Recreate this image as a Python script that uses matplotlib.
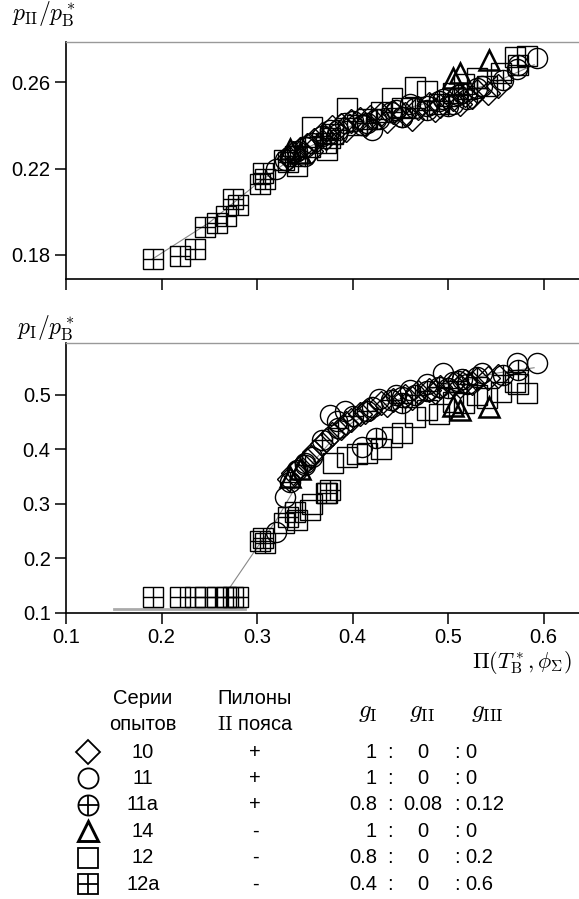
import matplotlib
matplotlib.use('Agg')
import matplotlib.pyplot as plt

plt.rcParams['font.family'] = ['Liberation Sans', 'DejaVu Sans']
plt.rcParams['mathtext.fontset'] = 'cm'

# series 10 (diamonds)
x10 = [0.333, 0.338, 0.345, 0.352, 0.356, 0.360, 0.368, 0.372, 0.378, 0.388, 0.393, 0.398,
       0.408, 0.413, 0.418, 0.430, 0.436, 0.442, 0.455, 0.462, 0.468, 0.480, 0.486, 0.492,
       0.505, 0.512, 0.518, 0.525, 0.530, 0.542, 0.552]
top10 = [0.225, 0.227, 0.229, 0.231, 0.228, 0.233, 0.236, 0.234, 0.239, 0.240, 0.238, 0.242,
         0.243, 0.240, 0.244, 0.245, 0.242, 0.246, 0.245, 0.243, 0.248, 0.250, 0.247, 0.249,
         0.252, 0.250, 0.254, 0.253, 0.256, 0.255, 0.258]
bot10 = [0.345, 0.357, 0.368, 0.380, 0.386, 0.395, 0.410, 0.418, 0.428, 0.440, 0.448, 0.455,
         0.465, 0.468, 0.475, 0.485, 0.482, 0.490, 0.498, 0.495, 0.505, 0.510, 0.506, 0.515,
         0.520, 0.516, 0.525, 0.522, 0.530, 0.532, 0.535]

# series 11 (circles)
x11 = [0.320, 0.329, 0.342, 0.350, 0.358, 0.376, 0.384, 0.392, 0.410, 0.420, 0.428, 0.445,
       0.452, 0.460, 0.478, 0.495, 0.505, 0.515, 0.535, 0.572, 0.593]
top11 = [0.220, 0.224, 0.228, 0.226, 0.232, 0.238, 0.236, 0.241, 0.240, 0.238, 0.243, 0.247,
         0.244, 0.250, 0.249, 0.252, 0.250, 0.255, 0.258, 0.266, 0.271]
bot11 = [0.249, 0.313, 0.362, 0.375, 0.386, 0.463, 0.452, 0.470, 0.405, 0.478, 0.492, 0.500,
         0.497, 0.510, 0.520, 0.540, 0.524, 0.530, 0.540, 0.559, 0.559]

# series 11a (crossed circles)
x11a = [0.335, 0.350, 0.368, 0.385, 0.400, 0.415, 0.425, 0.440, 0.452, 0.465, 0.478, 0.490,
        0.500, 0.510, 0.520, 0.530, 0.557, 0.573]
top11a = [0.226, 0.230, 0.235, 0.238, 0.242, 0.241, 0.243, 0.246, 0.244, 0.248, 0.247, 0.251,
          0.249, 0.254, 0.252, 0.257, 0.261, 0.268]
bot11a = [0.340, 0.372, 0.417, 0.440, 0.462, 0.470, 0.421, 0.490, 0.485, 0.500, 0.508, 0.515,
          0.512, 0.525, 0.520, 0.533, 0.537, 0.545]

# series 14 (triangles)
x14 = [0.335, 0.345, 0.505, 0.512, 0.543]
top14 = [0.229, 0.227, 0.262, 0.264, 0.270]
bot14 = [0.350, 0.365, 0.480, 0.472, 0.478]

# series 12 (squares)
x12 = [0.328, 0.342, 0.355, 0.357, 0.373, 0.380, 0.394, 0.405, 0.415, 0.430, 0.441, 0.452,
       0.465, 0.478, 0.490, 0.505, 0.517, 0.530, 0.541, 0.555, 0.570, 0.573, 0.583]
top12 = [0.224, 0.221, 0.230, 0.239, 0.2286, 0.236, 0.248, 0.240, 0.243, 0.246, 0.2526, 0.248,
         0.2577, 0.256, 0.250, 0.255, 0.259, 0.262, 0.258, 0.264, 0.2716, 0.268, 0.272]
bot12 = [0.265, 0.271, 0.289, 0.300, 0.320, 0.375, 0.386, 0.392, 0.394, 0.400, 0.423, 0.430,
         0.460, 0.472, 0.465, 0.487, 0.485, 0.500, 0.494, 0.505, 0.524, 0.520, 0.504]

# series 12a (crossed squares)
x12a = [0.191, 0.219, 0.235, 0.246, 0.258, 0.268, 0.275, 0.280, 0.303, 0.306, 0.308, 0.332, 0.340, 0.372, 0.376]
top12a = [0.178, 0.1795, 0.183, 0.193, 0.195, 0.198, 0.206, 0.203, 0.213, 0.218, 0.215, 0.223, 0.226, 0.232, 0.234]
bot12a = [0.13, 0.13, 0.13, 0.13, 0.13, 0.13, 0.13, 0.13, 0.232, 0.238, 0.228, 0.276, 0.285, 0.320, 0.325]

# fitted curves
fit_top_x = [0.19, 0.25, 0.30, 0.35, 0.40, 0.45, 0.50, 0.55, 0.59]
fit_top_y = [0.178, 0.195, 0.213, 0.229, 0.240, 0.247, 0.253, 0.260, 0.268]
fit_bot_x = [0.272, 0.30, 0.32, 0.34, 0.36, 0.38, 0.40, 0.43, 0.46, 0.50, 0.55, 0.59]
fit_bot_y = [0.148, 0.22, 0.27, 0.33, 0.38, 0.42, 0.45, 0.48, 0.50, 0.52, 0.54, 0.55]
base_x = [0.15, 0.287]
base_y = [0.108, 0.108]

series_names = ['10', '11', '11a', '14', '12', '12a']
pylons = ['+', '+', '+', '-', '-', '-']
g1 = ['1', '1', '0.8', '1', '0.8', '0.4']
g2 = ['0', '0', '0.08', '0', '0', '0']
g3 = ['0', '0', '0.12', '0', '0.2', '0.6']

W, H = 579, 899
fig = plt.figure(figsize=(W / 100, H / 100), dpi=100)

ax1 = fig.add_axes([66 / W, 1 - 279 / H, 1 - 66 / W, (279 - 42) / H])
ax2 = fig.add_axes([66 / W, 1 - 613 / H, 1 - 66 / W, (613 - 343) / H])

styles = {
    '10': dict(marker='D', ms=12.5, mew=1.0),
    '11': dict(marker='o', ms=14.5, mew=1.0),
    '11a': dict(marker='o', ms=14.5, mew=1.0),
    '14': dict(marker='^', ms=14, mew=1.8),
    '12': dict(marker='s', ms=14, mew=1.0),
    '12a': dict(marker='s', ms=14, mew=1.0),
}


def draw(ax, name, x, y):
    st = styles[name]
    ax.plot(x, y, ls='none', marker=st['marker'], ms=st['ms'], mew=st['mew'],
            mfc='none', mec='k', zorder=3)
    if name in ('11a', '12a'):
        ax.plot(x, y, ls='none', marker='+', ms=st['ms'], mew=st['mew'], mec='k', zorder=3)


ax1.plot(fit_top_x, fit_top_y, color='#888888', lw=0.8, zorder=2)
ax2.plot(fit_bot_x, fit_bot_y, color='#888888', lw=0.8, zorder=2)
ax2.plot(base_x, base_y, color='#aaaaaa', lw=2, zorder=2)

for name, x, yt, yb in [('12a', x12a, top12a, bot12a), ('12', x12, top12, bot12),
                        ('11', x11, top11, bot11), ('11a', x11a, top11a, bot11a),
                        ('10', x10, top10, bot10), ('14', x14, top14, bot14)]:
    draw(ax1, name, x, yt)
    draw(ax2, name, x, yb)

for ax in (ax1, ax2):
    ax.set_xlim(0.1, 0.637)
    ax.set_xticks([0.1, 0.2, 0.3, 0.4, 0.5, 0.6])
    ax.spines['right'].set_visible(False)
    ax.spines['top'].set_color('#999999')
    ax.spines['top'].set_linewidth(1.0)
    ax.spines['left'].set_linewidth(1.2)
    ax.spines['bottom'].set_linewidth(1.2)
    ax.tick_params(direction='out', length=8, width=1.1, labelsize=14.5, pad=3)

ax1.set_ylim(0.1689, 0.2785)
ax1.set_yticks([0.18, 0.22, 0.26])
ax1.set_yticklabels(['0.18', '0.22', '0.26'])
ax1.tick_params(axis='x', labelbottom=False)

ax2.set_ylim(0.1, 0.5954)
ax2.set_yticks([0.1, 0.2, 0.3, 0.4, 0.5])
ax2.set_yticklabels(['0.1', '0.2', '0.3', '0.4', '0.5'])
ax2.set_xticklabels(['0.1', '0.2', '0.3', '0.4', '0.5', '0.6'])

fig.text(12 / W, 1 - 14 / H, r'$p_{\mathrm{II}}/p^*_{\mathrm{B}}$', fontsize=17,
         ha='left', va='center')
fig.text(17 / W, 1 - 328 / H, r'$p_{\mathrm{I}}/p^*_{\mathrm{B}}$', fontsize=17,
         ha='left', va='center')
fig.text(572 / W, 1 - 662 / H, r'$\Pi(T^*_{\mathrm{B}},\phi_{\Sigma})$', fontsize=16,
         ha='right', va='center')

# legend table
axl = fig.add_axes([0, 0, 1, (H - 670) / H])
axl.set_xlim(0, W)
axl.set_ylim(H, 670)
axl.axis('off')

fs = 14.5
axl.text(143, 698, 'Серии', ha='center', va='center', fontsize=fs)
axl.text(143, 725, 'опытов', ha='center', va='center', fontsize=fs)
axl.text(255, 699, 'Пилоны', ha='center', va='center', fontsize=fs)
axl.text(255, 724, r'$\mathrm{II}$ пояса', ha='center', va='center', fontsize=fs)
axl.text(368, 712, r'$g_{\mathrm{I}}$', ha='center', va='center', fontsize=18)
axl.text(422, 712, r'$g_{\mathrm{II}}$', ha='center', va='center', fontsize=18)
axl.text(487, 712, r'$g_{\mathrm{III}}$', ha='center', va='center', fontsize=18)

row_step = 26.4
for i, name in enumerate(series_names):
    yr = 752 + i * row_step
    st = styles[name]
    axl.plot([88], [yr], ls='none', marker=st['marker'], ms=st['ms'], mew=st['mew'] + 0.3,
             mfc='none', mec='k', clip_on=False)
    if name in ('11a', '12a'):
        axl.plot([88], [yr], ls='none', marker='+', ms=st['ms'], mew=st['mew'] + 0.3,
                 mec='k', clip_on=False)
    axl.text(143, yr, name, ha='center', va='center', fontsize=fs)
    axl.text(255, yr, pylons[i], ha='center', va='center', fontsize=fs)
    axl.text(377, yr, g1[i], ha='right', va='center', fontsize=fs)
    axl.text(390, yr, ':', ha='center', va='center', fontsize=fs)
    axl.text(423, yr, g2[i], ha='center', va='center', fontsize=fs)
    axl.text(457, yr, ':', ha='center', va='center', fontsize=fs)
    axl.text(465, yr, g3[i], ha='left', va='center', fontsize=fs)

fig.savefig('out.png', dpi=100)
